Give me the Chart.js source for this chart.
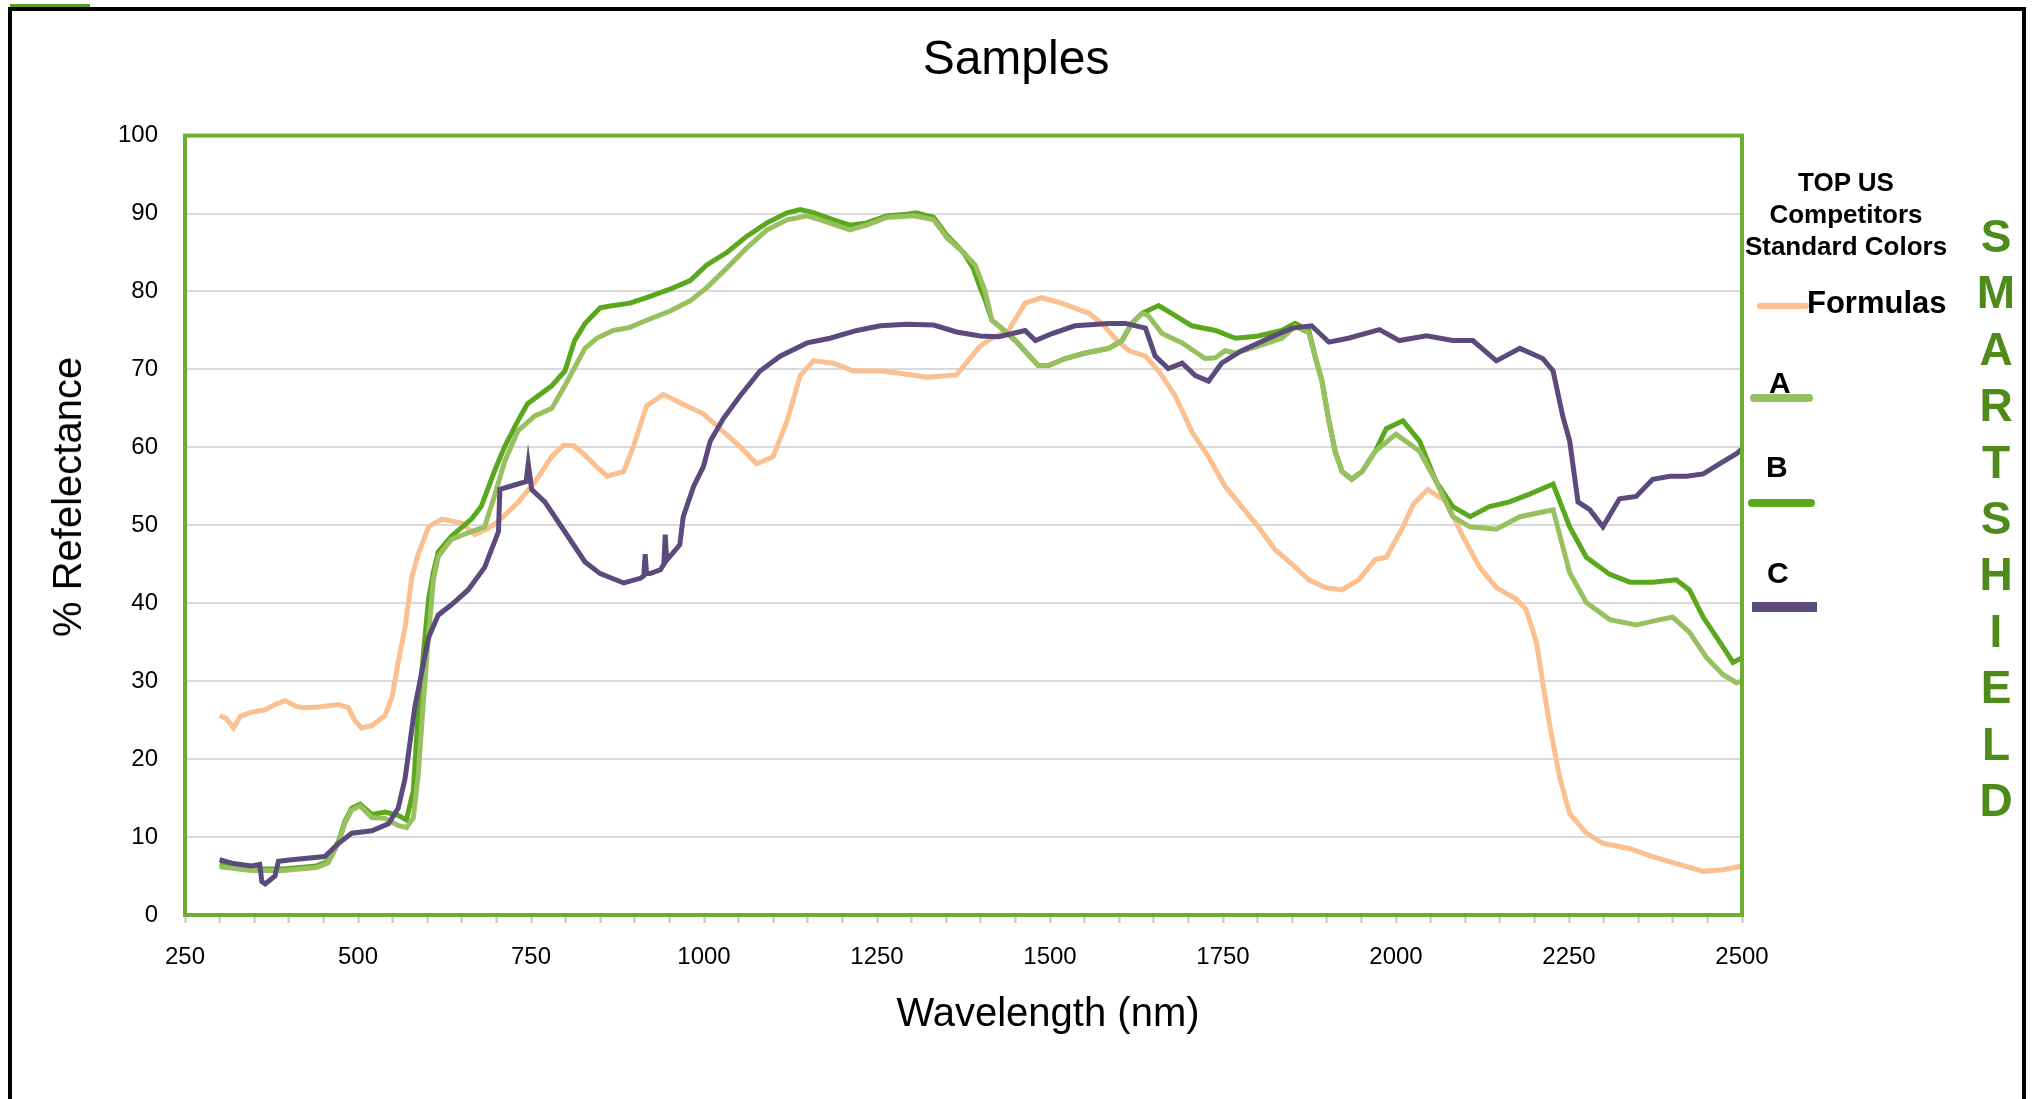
<!DOCTYPE html>
<html>
<head>
<meta charset="utf-8">
<title>Samples</title>
<script src="https://cdn.jsdelivr.net/npm/chart.js@4.4.1/dist/chart.umd.min.js"></script>
<style>
    body { margin: 0; background: #fff; font-family: "Liberation Sans", Arial, sans-serif; }
    #wrap { position: relative; width: 2032px; height: 1099px; overflow: hidden; }
    #frame { position: absolute; left: 8px; top: 7px; width: 2018px; height: 1200px; border: 4px solid #000; box-sizing: border-box; }
    #frameTick { position: absolute; left: 10px; top: 4px; width: 80px; height: 3px; background: #5c9a2a; }
    canvas { position: absolute; left: 0; top: 0; }
    .txt { position: absolute; white-space: nowrap; color: #000; }
    .axisTitle { font-size: 40px; line-height: 48px; }
    .legHead { font-size: 26px; font-weight: bold; line-height: 32px; text-align: center; width: 260px; left: 1716px; top: 166px; }
    .legLabel { font-weight: bold; font-size: 30px; line-height: 36px; }
    .swatch { position: absolute; }
    #brand { position: absolute; left: 1966px; top: 208px; width: 60px; text-align: center; color: #4e8b1b; font-weight: bold; font-size: 46px; line-height: 56.4px; }
</style>
</head>
<body>
<div id="wrap">
    <div id="frame"></div>
    <div id="frameTick"></div>
    <canvas id="samplesChart" width="2032" height="1099"></canvas>

    <div class="txt axisTitle" style="left:1048px; top:988px; transform:translateX(-50%);">Wavelength (nm)</div>
    <div class="txt axisTitle" style="left:67px; top:497px; transform:translate(-50%,-50%) rotate(-90deg);">% Refelectance</div>

    <div class="txt legHead">TOP US<br>Competitors<br>Standard Colors</div>

    <div class="swatch" style="left:1757px; top:303px; width:52px; height:6px; background:#fac090; border-radius:3px;"></div>
    <div class="txt legLabel" style="left:1807px; top:285px; font-size:31px;">Formulas</div>

    <div class="txt legLabel" style="left:1769px; top:365px;">A</div>
    <div class="swatch" style="left:1750px; top:394px; width:63px; height:8px; background:#98c060; border-radius:4px;"></div>

    <div class="txt legLabel" style="left:1766px; top:449px;">B</div>
    <div class="swatch" style="left:1748px; top:499px; width:67px; height:8px; background:#5aa81e; border-radius:4px;"></div>

    <div class="txt legLabel" style="left:1767px; top:555px;">C</div>
    <div class="swatch" style="left:1752px; top:602px; width:65px; height:10px; background:#5c4a7c;"></div>

    <div id="brand">S<br>M<br>A<br>R<br>T<br>S<br>H<br>I<br>E<br>L<br>D</div>
</div>

<script>
// Wavelength (nm) / reflectance (%)
const formulasWl = [300, 310, 320, 330, 345, 365, 380, 395, 410, 420, 443, 472, 486, 495, 505, 520, 539, 549, 558, 568, 578, 587, 602, 621, 650, 669, 686, 703, 732, 756, 780, 797, 812, 828, 845, 860, 884, 898, 917, 941, 975, 999, 1023, 1052, 1076, 1100, 1120, 1139, 1158, 1187, 1216, 1255, 1283, 1322, 1365, 1385, 1399, 1416, 1440, 1464, 1488, 1517, 1556, 1575, 1594, 1614, 1638, 1657, 1681, 1705, 1729, 1753, 1777, 1801, 1825, 1850, 1874, 1898, 1922, 1946, 1970, 1986, 2010, 2025, 2046, 2073, 2097, 2121, 2145, 2174, 2188, 2203, 2212, 2224, 2237, 2251, 2275, 2299, 2338, 2371, 2405, 2444, 2473, 2500];
const formulasR = [25.6, 25.2, 24, 25.5, 26, 26.3, 27, 27.5, 26.8, 26.6, 26.7, 27, 26.6, 25, 24, 24.3, 25.6, 27.9, 32.4, 36.9, 43.4, 46.3, 49.8, 50.8, 50.3, 48.8, 49.5, 50.5, 53, 55.6, 58.8, 60.3, 60.2, 59, 57.5, 56.3, 56.9, 60.1, 65.3, 66.8, 65.3, 64.3, 62.4, 60.1, 57.9, 58.8, 63.4, 69.2, 71.1, 70.8, 69.8, 69.8, 69.5, 69, 69.3, 71.5, 73, 74, 75, 78.5, 79.2, 78.5, 77.2, 75.9, 74, 72.4, 71.7, 69.8, 66.6, 62, 58.8, 55, 52.4, 49.8, 46.9, 45, 43, 42, 41.7, 43, 45.6, 45.9, 49.8, 52.7, 54.6, 53, 48.5, 44.6, 42, 40.5, 39.2, 35, 29.8, 23.4, 17.5, 13, 10.5, 9.2, 8.5, 7.5, 6.6, 5.6, 5.8, 6.3];

const aWl = [300, 346, 392, 440, 457, 472, 481, 491, 503, 520, 539, 558, 570, 580, 587, 595, 602, 609, 616, 635, 664, 683, 697, 712, 731, 755, 780, 799, 828, 845, 869, 893, 917, 951, 980, 1004, 1033, 1062, 1091, 1120, 1149, 1168, 1211, 1235, 1264, 1303, 1332, 1351, 1375, 1392, 1406, 1416, 1430, 1450, 1483, 1498, 1522, 1551, 1585, 1604, 1618, 1633, 1642, 1662, 1691, 1724, 1739, 1753, 1768, 1801, 1835, 1854, 1874, 1883, 1893, 1903, 1912, 1922, 1936, 1951, 1970, 2000, 2034, 2058, 2082, 2107, 2145, 2179, 2212, 2227, 2251, 2275, 2309, 2347, 2381, 2400, 2424, 2449, 2473, 2492, 2500];
const aR = [6.2, 5.7, 5.7, 6.1, 6.7, 9.3, 11.8, 13.5, 14, 12.5, 12.4, 11.5, 11.2, 12.5, 18, 28, 36, 43, 46, 48.2, 49.2, 49.8, 53.7, 58.2, 62.1, 64, 65, 67.9, 72.7, 74, 75, 75.4, 76.3, 77.5, 78.8, 80.5, 83, 85.6, 87.9, 89.2, 89.7, 89.2, 87.9, 88.5, 89.5, 89.7, 89.2, 86.9, 85, 83.4, 80.1, 76.3, 75.3, 73.7, 70.5, 70.5, 71.4, 72.1, 72.7, 73.7, 75.9, 77.2, 76.9, 74.6, 73.4, 71.4, 71.5, 72.4, 72.1, 73, 74, 75.5, 74.7, 71.7, 68.5, 63.4, 59.5, 56.9, 55.9, 56.9, 59.5, 61.7, 59.5, 55.6, 51.1, 49.8, 49.5, 51.1, 51.7, 52, 43.9, 40.1, 37.9, 37.2, 37.9, 38.2, 36.3, 33, 30.8, 29.8, 30];

const bWl = [300, 346, 392, 440, 457, 472, 481, 491, 503, 520, 539, 558, 570, 580, 587, 595, 602, 609, 616, 635, 664, 678, 697, 712, 731, 745, 780, 799, 813, 828, 850, 869, 893, 917, 951, 980, 1004, 1033, 1062, 1091, 1120, 1139, 1158, 1187, 1211, 1235, 1264, 1293, 1307, 1332, 1351, 1375, 1389, 1399, 1406, 1416, 1430, 1450, 1483, 1498, 1522, 1551, 1585, 1604, 1618, 1633, 1657, 1681, 1705, 1739, 1768, 1801, 1835, 1854, 1874, 1883, 1893, 1903, 1912, 1922, 1936, 1951, 1970, 1986, 2010, 2034, 2058, 2082, 2107, 2135, 2164, 2193, 2227, 2251, 2275, 2309, 2338, 2371, 2405, 2424, 2444, 2468, 2487, 2500];
const bR = [6.5, 5.9, 5.9, 6.3, 6.9, 9.5, 12, 13.7, 14.2, 12.9, 13.2, 12.8, 12.2, 16, 26, 34, 40.5, 44, 46.6, 48.6, 50.8, 52.4, 56.9, 60.1, 63.4, 65.6, 67.9, 69.8, 73.7, 75.9, 77.9, 78.2, 78.5, 79.2, 80.3, 81.4, 83.4, 85, 87.1, 88.8, 90.1, 90.5, 90.1, 89.2, 88.5, 88.8, 89.7, 89.9, 90.1, 89.5, 87.2, 85, 83, 80.5, 79, 76.3, 75.3, 73.7, 70.5, 70.5, 71.4, 72.1, 72.7, 73.7, 75.9, 77.2, 78.2, 76.9, 75.6, 75, 74, 74.3, 75, 75.9, 75, 71.7, 68.5, 63.4, 59.5, 56.9, 55.9, 56.9, 59.5, 62.4, 63.4, 60.8, 55.6, 52.4, 51.1, 52.4, 53, 54, 55.3, 49.8, 45.9, 43.7, 42.7, 42.7, 43, 41.7, 38.2, 35, 32.4, 33];

const cWl = [300, 320, 346, 358, 361, 366, 380, 385, 404, 452, 472, 491, 520, 544, 558, 568, 582, 592, 602, 616, 635, 659, 683, 703, 705, 731, 743, 746, 751, 770, 804, 828, 850, 884, 908, 913, 915, 917, 922, 937, 942, 944, 946, 965, 970, 985, 999, 1009, 1028, 1052, 1081, 1110, 1149, 1182, 1221, 1255, 1293, 1332, 1365, 1399, 1426, 1464, 1479, 1503, 1536, 1585, 1609, 1638, 1652, 1671, 1691, 1710, 1729, 1748, 1777, 1816, 1850, 1878, 1903, 1931, 1976, 2005, 2044, 2082, 2111, 2145, 2179, 2212, 2227, 2241, 2251, 2263, 2280, 2299, 2323, 2347, 2371, 2396, 2420, 2444, 2468, 2492, 2500];
const cR = [7.1, 6.6, 6.3, 6.5, 4.3, 4, 5, 6.9, 7.1, 7.5, 9.2, 10.5, 10.8, 11.7, 13.7, 17.5, 26.6, 31.1, 35.6, 38.5, 39.8, 41.7, 44.6, 49.2, 54.6, 55.3, 55.6, 57.9, 54.6, 53, 48.5, 45.3, 43.8, 42.6, 43.2, 43.5, 46.3, 43.8, 43.8, 44.3, 45, 48.8, 45.5, 47.5, 51.1, 55, 57.5, 60.8, 63.7, 66.6, 69.8, 71.7, 73.4, 74, 75, 75.6, 75.8, 75.7, 74.8, 74.3, 74.2, 75, 73.7, 74.6, 75.6, 75.9, 75.9, 75.3, 71.7, 70.1, 70.8, 69.2, 68.5, 70.8, 72.4, 74, 75.3, 75.6, 73.5, 74, 75.1, 73.7, 74.3, 73.7, 73.7, 71.1, 72.7, 71.4, 69.8, 64, 60.8, 53, 52, 49.8, 53.4, 53.7, 55.9, 56.3, 56.3, 56.6, 57.9, 59.2, 59.8];

const xTickLabels = [250, 500, 750, 1000, 1250, 1500, 1750, 2000, 2250, 2500];

function toPoints(wl, r) {
    return wl.map((x, i) => ({ x: x, y: r[i] }));
}

function makeSeries(label, wl, r, color, order) {
    return {
        label: label,
        data: toPoints(wl, r),
        borderColor: color,
        backgroundColor: color,
        borderWidth: 5,
        pointRadius: 0,
        tension: 0,
        order: order
    };
}

// Green frame around the plot area
const plotFrame = {
    id: 'plotFrame',
    afterDatasetsDraw(chart) {
        const { ctx, chartArea } = chart;
        ctx.save();
        ctx.strokeStyle = '#6cae2e';
        ctx.lineWidth = 4;
        ctx.strokeRect(chartArea.left, chartArea.top, chartArea.right - chartArea.left, chartArea.bottom - chartArea.top);
        ctx.restore();
    }
};

Chart.defaults.font.family = '"Liberation Sans", Arial, sans-serif';
Chart.defaults.color = '#000';

function createSamplesChart() {
    const ctx = document.getElementById('samplesChart').getContext('2d');

    new Chart(ctx, {
        type: 'line',
        data: {
            datasets: [
                makeSeries('C', cWl, cR, '#5c4a7c', 0),
                makeSeries('A', aWl, aR, '#98c060', 1),
                makeSeries('B', bWl, bR, '#5aa81e', 2),
                makeSeries('Formulas', formulasWl, formulasR, '#fac090', 3)
            ]
        },
        options: {
            responsive: false,
            animation: false,
            layout: { padding: 0 },
            plugins: {
                legend: { display: false },
                tooltip: { enabled: false },
                title: {
                    display: true,
                    text: 'Samples',
                    color: '#000',
                    font: { size: 48, weight: 'normal' },
                    padding: { top: 32, bottom: 46 }
                }
            },
            scales: {
                x: {
                    type: 'linear',
                    min: 250,
                    max: 2500,
                    ticks: {
                        stepSize: 50,
                        autoSkip: false,
                        maxRotation: 0,
                        padding: 20,
                        font: { size: 24 },
                        callback: function(value) {
                            return xTickLabels.includes(value) ? String(value) : '';
                        }
                    },
                    grid: { drawOnChartArea: false, drawTicks: true, tickLength: 8, tickColor: '#c0c0c0', tickWidth: 2 },
                    border: { display: false },
                    afterFit: function(scale) { scale.height = 184; }
                },
                y: {
                    min: 0,
                    max: 100,
                    ticks: { stepSize: 10, padding: 27, font: { size: 24 } },
                    grid: { color: '#dadada', lineWidth: 2, drawTicks: false },
                    border: { display: false },
                    afterFit: function(scale) { scale.width = 185; }
                },
                // empty right-hand axis reserving room for the legend column
                side: {
                    position: 'right',
                    min: 0,
                    max: 100,
                    ticks: { display: false },
                    grid: { display: false },
                    border: { display: false },
                    afterFit: function(scale) { scale.width = 290; }
                }
            }
        },
        plugins: [plotFrame]
    });
}

document.addEventListener('DOMContentLoaded', createSamplesChart);
</script>
</body>
</html>
